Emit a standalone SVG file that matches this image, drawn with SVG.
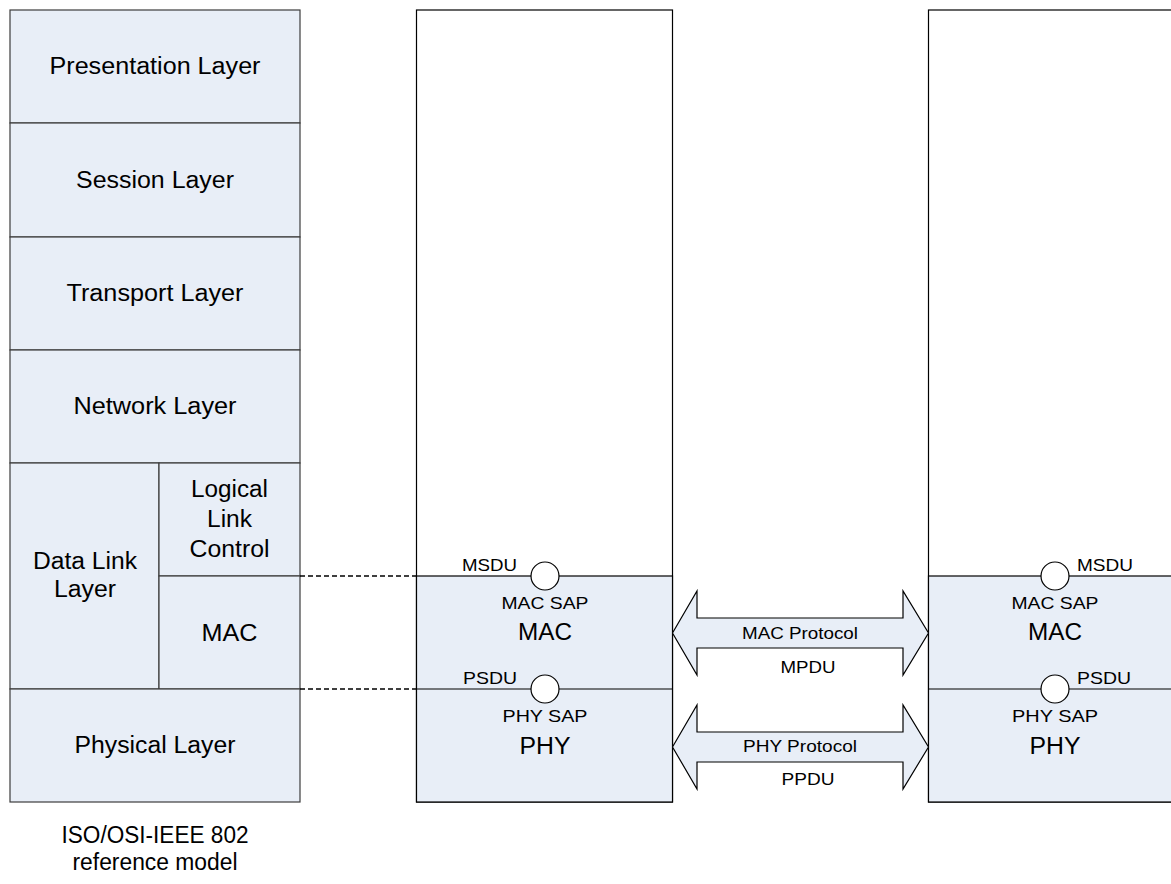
<svg xmlns="http://www.w3.org/2000/svg" width="1171" height="884" viewBox="0 0 1171 884">
<style>
.t{font-family:"Liberation Sans",Arial,Helvetica,sans-serif;fill:#000}
.b{font-size:23.5px;text-anchor:middle}
.s{font-size:17px}
.m{text-anchor:middle}
.lay{fill:#E8EEF7;stroke:#3c3c3c;stroke-width:1.2}
.wh{fill:#FFFFFF;stroke:#000;stroke-width:1.2}
.bl{fill:#E8EEF7;stroke:#000;stroke-width:1.2}
.ln{stroke:#000;stroke-width:1.2;fill:none}
.dash{stroke:#000;stroke-width:1.4;stroke-dasharray:5 3;fill:none}
.sap{fill:#FFFFFF;stroke:#000;stroke-width:1.2}
.arr{fill:#E8EEF7;stroke:#000;stroke-width:1.2;stroke-linejoin:miter}
</style>
<rect width="1171" height="884" fill="#FFFFFF"/>

<g id="osi-stack">
  <g id="presentation">
    <rect class="lay" x="10" y="10" width="290" height="113"/>
    <text class="t b" x="155" y="74" textLength="211" lengthAdjust="spacingAndGlyphs">Presentation Layer</text>
  </g>
  <g id="session">
    <rect class="lay" x="10" y="123" width="290" height="114"/>
    <text class="t b" x="155" y="187.5" textLength="158" lengthAdjust="spacingAndGlyphs">Session Layer</text>
  </g>
  <g id="transport">
    <rect class="lay" x="10" y="237" width="290" height="113"/>
    <text class="t b" x="155" y="301" textLength="177" lengthAdjust="spacingAndGlyphs">Transport Layer</text>
  </g>
  <g id="network">
    <rect class="lay" x="10" y="350" width="290" height="113"/>
    <text class="t b" x="155" y="414" textLength="163" lengthAdjust="spacingAndGlyphs">Network Layer</text>
  </g>
  <g id="datalink">
    <rect class="lay" x="10" y="463" width="149" height="226"/>
    <text class="t b" x="85" y="569" textLength="104" lengthAdjust="spacingAndGlyphs">Data Link</text>
    <text class="t b" x="85" y="597" textLength="62" lengthAdjust="spacingAndGlyphs">Layer</text>
  </g>
  <g id="llc">
    <rect class="lay" x="159" y="463" width="141" height="113"/>
    <text class="t b" x="229.5" y="497" textLength="77" lengthAdjust="spacingAndGlyphs">Logical</text>
    <text class="t b" x="229.5" y="527" textLength="45" lengthAdjust="spacingAndGlyphs">Link</text>
    <text class="t b" x="229.5" y="557" textLength="80" lengthAdjust="spacingAndGlyphs">Control</text>
  </g>
  <g id="mac-osi">
    <rect class="lay" x="159" y="576" width="141" height="113"/>
    <text class="t b" x="229.5" y="641" textLength="56" lengthAdjust="spacingAndGlyphs">MAC</text>
  </g>
  <g id="physical">
    <rect class="lay" x="10" y="689" width="290" height="113"/>
    <text class="t b" x="155" y="753" textLength="161" lengthAdjust="spacingAndGlyphs">Physical Layer</text>
  </g>
  <g id="caption">
    <text class="t b" x="155" y="843" textLength="187" lengthAdjust="spacingAndGlyphs">ISO/OSI-IEEE 802</text>
    <text class="t b" x="155" y="870" textLength="165" lengthAdjust="spacingAndGlyphs">reference model</text>
  </g>
</g>

<g id="station-a">
  <rect class="wh" x="416.5" y="10" width="256" height="792"/>
  <rect class="bl" x="416.5" y="576" width="256" height="226"/>
  <line class="ln" x1="416.5" y1="689" x2="672.5" y2="689"/>
  <g id="a-mac-sap">
    <circle class="sap" cx="545" cy="576" r="14"/>
    <text class="t s" x="462" y="571" textLength="55" lengthAdjust="spacingAndGlyphs">MSDU</text>
    <text class="t s m" x="545" y="608.5" textLength="87" lengthAdjust="spacingAndGlyphs">MAC SAP</text>
  </g>
  <g id="a-mac">
    <text class="t b" x="545" y="640" textLength="54" lengthAdjust="spacingAndGlyphs">MAC</text>
  </g>
  <g id="a-phy-sap">
    <circle class="sap" cx="545" cy="689" r="14"/>
    <text class="t s" x="463" y="684" textLength="54" lengthAdjust="spacingAndGlyphs">PSDU</text>
    <text class="t s m" x="545" y="722" textLength="85" lengthAdjust="spacingAndGlyphs">PHY SAP</text>
  </g>
  <g id="a-phy">
    <text class="t b" x="545" y="754" textLength="51" lengthAdjust="spacingAndGlyphs">PHY</text>
  </g>
</g>

<g id="station-b">
  <rect class="wh" x="928.5" y="10" width="260" height="792"/>
  <rect class="bl" x="928.5" y="576" width="260" height="226"/>
  <line class="ln" x1="928.5" y1="689" x2="1171" y2="689"/>
  <g id="b-mac-sap">
    <circle class="sap" cx="1055" cy="576" r="14"/>
    <text class="t s" x="1077" y="571" textLength="56" lengthAdjust="spacingAndGlyphs">MSDU</text>
    <text class="t s m" x="1055" y="608.5" textLength="87" lengthAdjust="spacingAndGlyphs">MAC SAP</text>
  </g>
  <g id="b-mac">
    <text class="t b" x="1055" y="640" textLength="54" lengthAdjust="spacingAndGlyphs">MAC</text>
  </g>
  <g id="b-phy-sap">
    <circle class="sap" cx="1055" cy="689" r="14"/>
    <text class="t s" x="1077" y="684" textLength="54" lengthAdjust="spacingAndGlyphs">PSDU</text>
    <text class="t s m" x="1055" y="722" textLength="86" lengthAdjust="spacingAndGlyphs">PHY SAP</text>
  </g>
  <g id="b-phy">
    <text class="t b" x="1055" y="754" textLength="51" lengthAdjust="spacingAndGlyphs">PHY</text>
  </g>
</g>

<g id="connectors">
  <line class="dash" x1="300" y1="576" x2="416.5" y2="576"/>
  <line class="dash" x1="300" y1="689" x2="416.5" y2="689"/>
  <g id="mac-protocol">
    <path class="arr" d="M672.5,633 L697,591 L697,618 L903,618 L903,591 L928.5,633 L903,675 L903,648 L697,648 L697,675 Z"/>
    <text class="t s m" x="800" y="639" textLength="116" lengthAdjust="spacingAndGlyphs">MAC Protocol</text>
    <text class="t s m" x="808" y="673" textLength="55" lengthAdjust="spacingAndGlyphs">MPDU</text>
  </g>
  <g id="phy-protocol">
    <path class="arr" d="M672.5,747 L697,705 L697,732 L903,732 L903,705 L928.5,747 L903,789 L903,762 L697,762 L697,789 Z"/>
    <text class="t s m" x="800" y="752" textLength="114" lengthAdjust="spacingAndGlyphs">PHY Protocol</text>
    <text class="t s m" x="808" y="785" textLength="53" lengthAdjust="spacingAndGlyphs">PPDU</text>
  </g>
</g>
</svg>
